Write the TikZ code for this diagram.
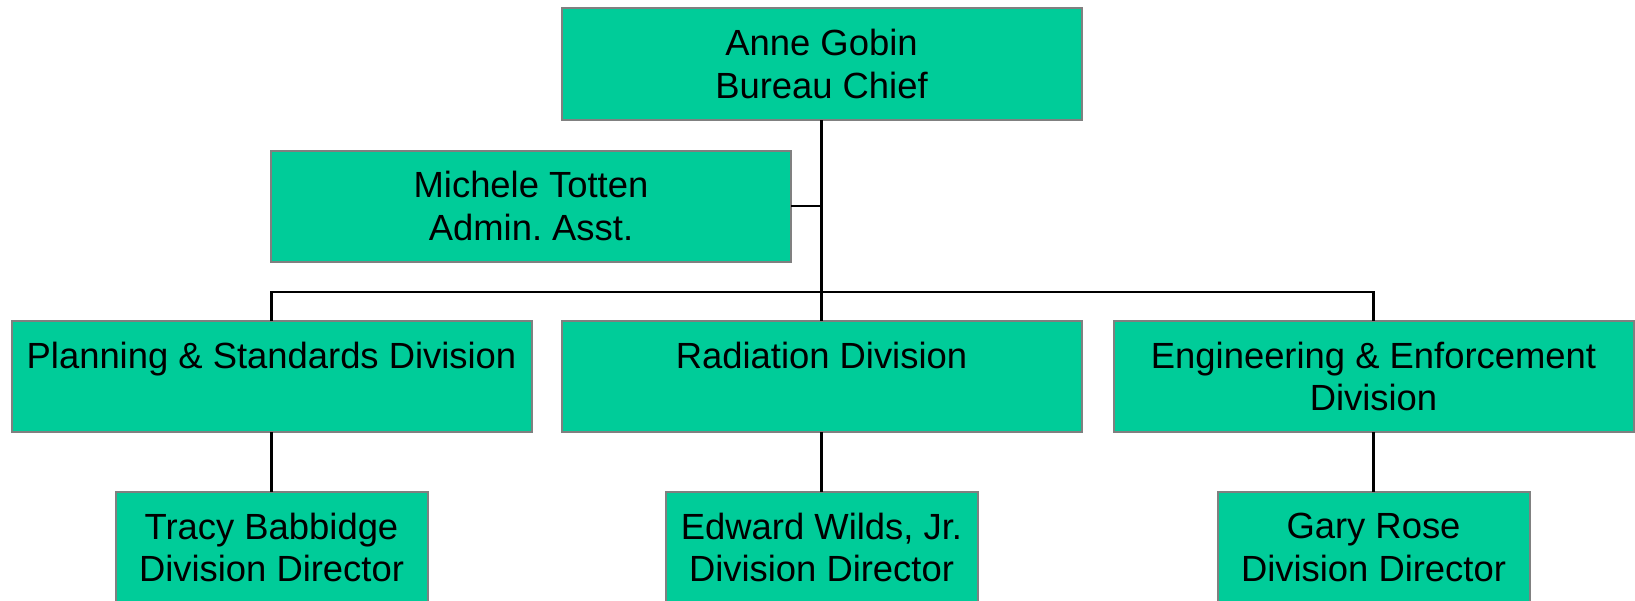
\documentclass[tikz,border=0pt]{standalone}
\usepackage{fontspec}
\setmainfont{Liberation Sans}
\frenchspacing
\definecolor{boxfill}{RGB}{0,204,153}
\definecolor{boxline}{RGB}{128,128,128}
\begin{document}
\begin{tikzpicture}[x=1pt,y=-1pt,
  orgbox/.style={draw=boxline, fill=boxfill, line width=2pt, inner sep=0pt, outer sep=0pt,
    minimum width=520pt, minimum height=111pt, align=center,
    font=\fontsize{36.4}{42.5}\selectfont\frenchspacing},
  dirbox/.style={orgbox, minimum width=312pt},
  link/.style={draw=black, line width=2.2pt}]
\useasboundingbox (0,0) rectangle (1635,600);
\clip (0,0) rectangle (1635,600);
\node[orgbox, minimum height=112pt] (chief) at (821.5,64) {Anne Gobin\\Bureau Chief};
\node[orgbox] (admin) at (531,206) {Michele Totten\\Admin. Asst.};
\node[orgbox] (div1) at (271.5,376.5) {Planning \& Standards Division\\\mbox{}};
\node[orgbox] (div2) at (821.5,376.5) {Radiation Division\\\mbox{}};
\node[orgbox] (div3) at (1373.5,376.5) {Engineering \& Enforcement\\Division};
\node[dirbox] (dir1) at (271.5,547.5) {Tracy Babbidge\\Division Director};
\node[dirbox] (dir2) at (821.5,547.5) {Edward Wilds, Jr.\\Division Director};
\node[dirbox] (dir3) at (1373.5,547.5) {Gary Rose\\Division Director};
\path[link] (chief.south) -- (div2.north);
\path[link] (admin.east) -- (admin.east -| chief.south);
\path[link] (div1.north) -- ++(0,-29) -| (div3.north);
\path[link] (div1.south) -- (dir1.north);
\path[link] (div2.south) -- (dir2.north);
\path[link] (div3.south) -- (dir3.north);
\end{tikzpicture}
\end{document}
